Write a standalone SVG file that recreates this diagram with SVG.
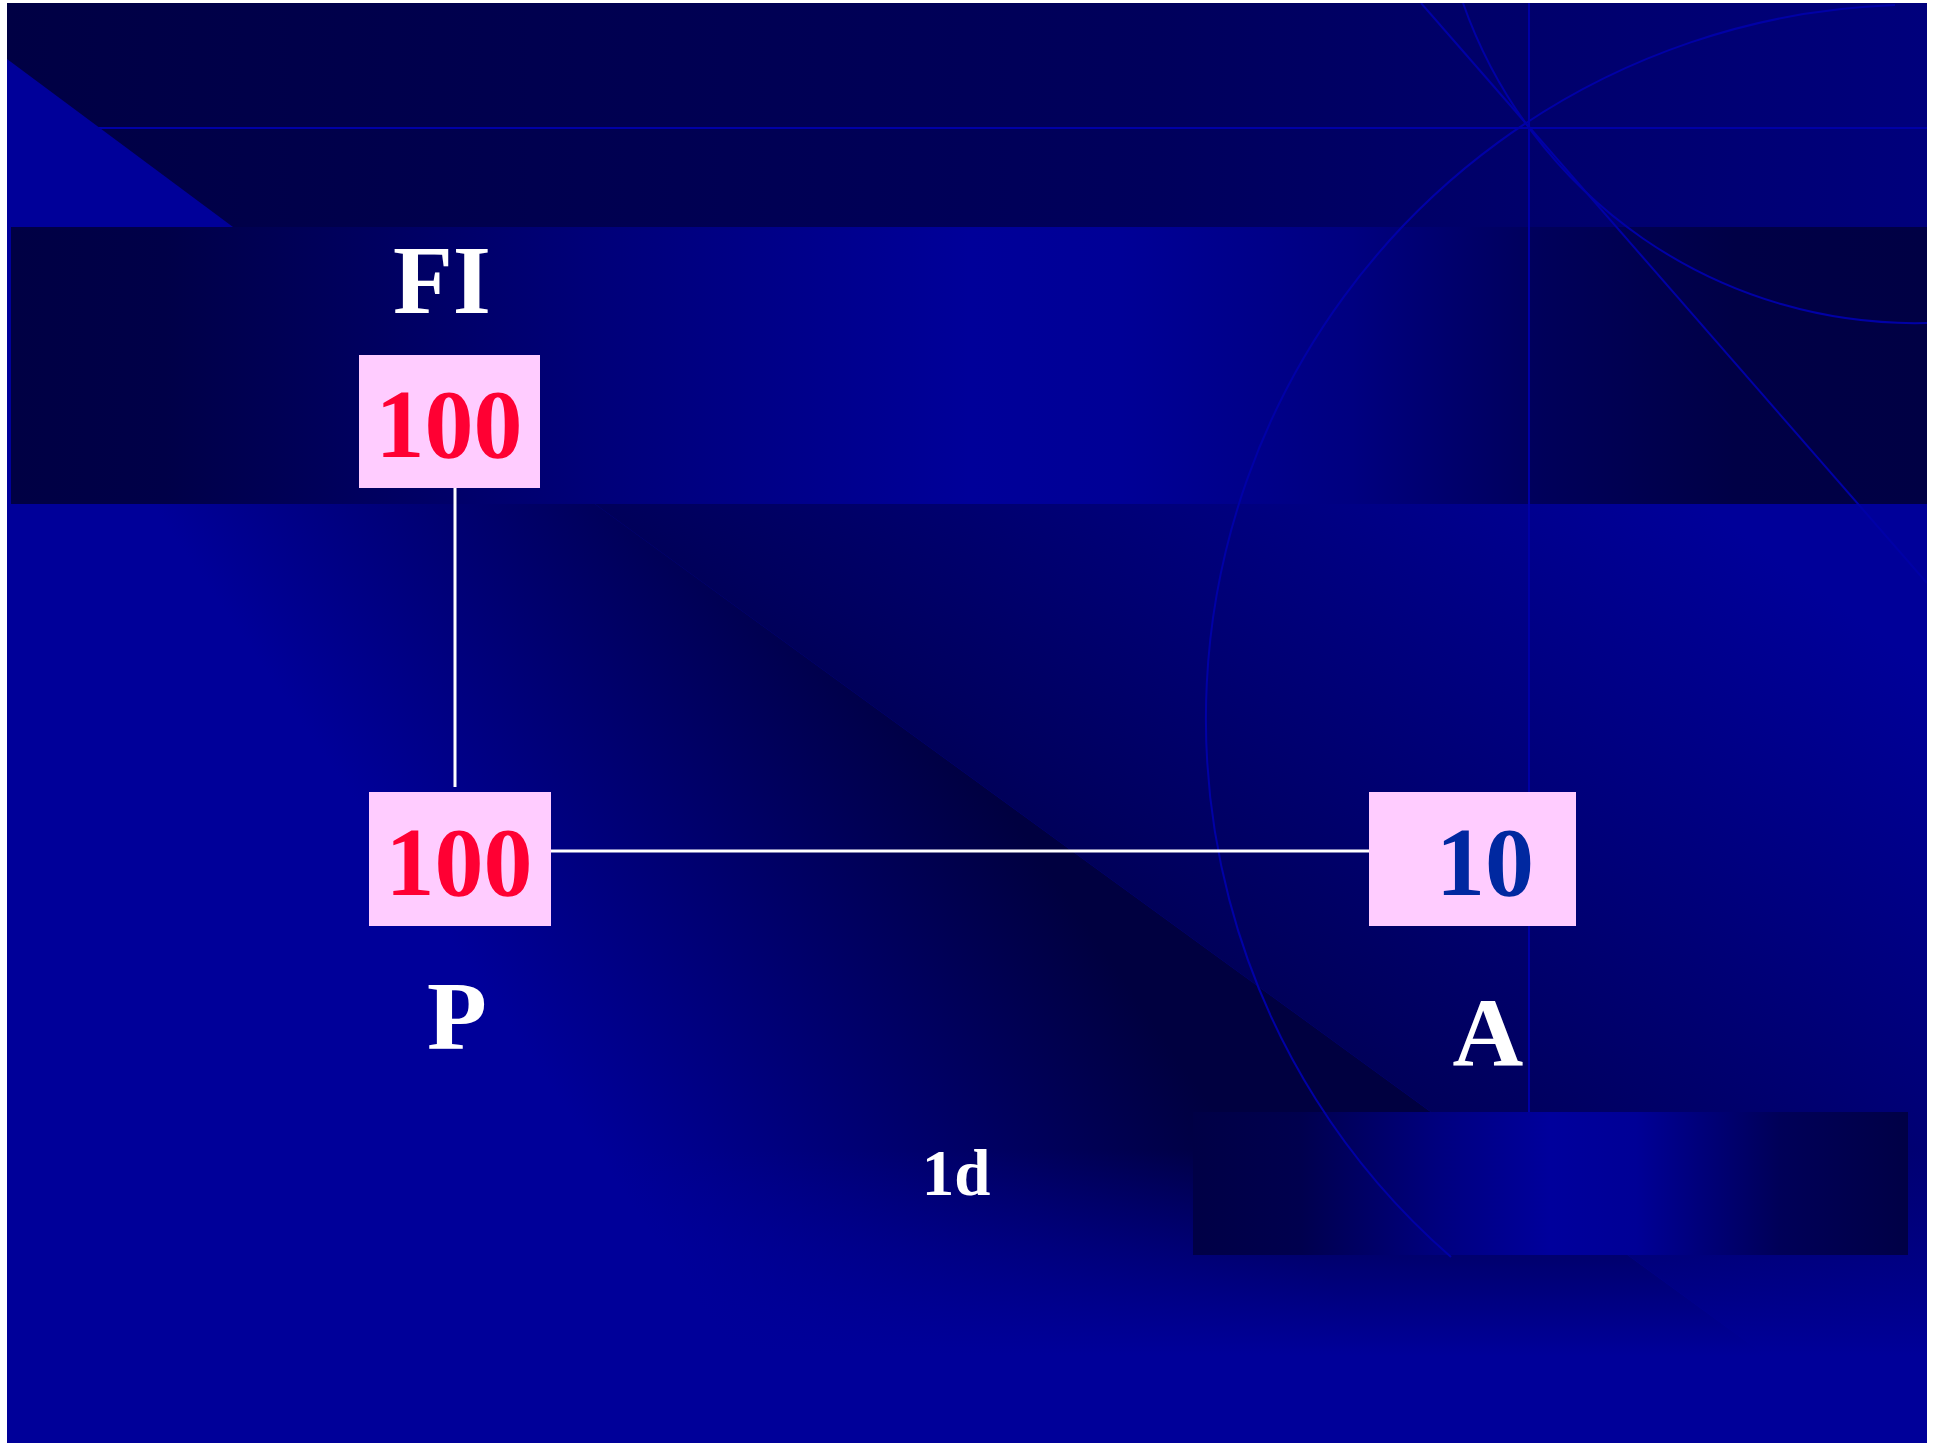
<svg xmlns="http://www.w3.org/2000/svg" width="1933" height="1446" viewBox="0 0 1933 1446">
  <defs>
    <linearGradient id="gTop" x1="0" y1="0" x2="1" y2="0">
      <stop offset="0" stop-color="#000044"/>
      <stop offset="0.6" stop-color="#00005c"/>
      <stop offset="1" stop-color="#00007c"/>
    </linearGradient>
    <linearGradient id="gBand" gradientUnits="userSpaceOnUse" x1="11" y1="0" x2="1927" y2="0">
      <stop offset="0" stop-color="#000044"/>
      <stop offset="0.08" stop-color="#000048"/>
      <stop offset="0.3" stop-color="#000078"/>
      <stop offset="0.5" stop-color="#000099"/>
      <stop offset="0.58" stop-color="#000096"/>
      <stop offset="0.7" stop-color="#000080"/>
      <stop offset="0.8" stop-color="#00005a"/>
      <stop offset="0.9" stop-color="#000046"/>
      <stop offset="1" stop-color="#000044"/>
    </linearGradient>
    <linearGradient id="gLowL" gradientUnits="userSpaceOnUse" x1="1000" y1="798" x2="560" y2="1100">
      <stop offset="0" stop-color="#000040"/>
      <stop offset="1" stop-color="#000099"/>
    </linearGradient>
    <linearGradient id="gLowR" gradientUnits="userSpaceOnUse" x1="1000" y1="798" x2="1382" y2="272">
      <stop offset="0" stop-color="#00005a"/>
      <stop offset="1" stop-color="#000099"/>
    </linearGradient>
    <linearGradient id="gFade" x1="0" y1="0" x2="0" y2="1">
      <stop offset="0" stop-color="#000099" stop-opacity="0"/>
      <stop offset="0.7" stop-color="#000099" stop-opacity="1"/>
      <stop offset="1" stop-color="#000099" stop-opacity="1"/>
    </linearGradient>
    <linearGradient id="gRect" x1="0" y1="0" x2="1" y2="0">
      <stop offset="0" stop-color="#000046"/>
      <stop offset="0.15" stop-color="#00004e"/>
      <stop offset="0.35" stop-color="#000080"/>
      <stop offset="0.5" stop-color="#00009c"/>
      <stop offset="0.62" stop-color="#000096"/>
      <stop offset="0.82" stop-color="#000058"/>
      <stop offset="1" stop-color="#000046"/>
    </linearGradient>
    <clipPath id="slide">
      <rect x="7" y="3" width="1920" height="1440"/>
    </clipPath>
  </defs>
  <style>
    .deco { fill: none; stroke: #0000a6; stroke-width: 2; }
    .box { fill: #ffccff; }
    .lbl { font-family: "Liberation Serif", "Times New Roman", serif; font-weight: bold; text-anchor: middle; }
    .big { font-size: 98px; }
    .white { fill: #ffffff; }
    .red { fill: #ff0033; }
    .blue { fill: #0028a0; }
    .conn { stroke: #ffffff; stroke-width: 3; fill: none; }
  </style>

  <rect x="0" y="0" width="1933" height="1446" fill="#ffffff"/>

  <g id="background" clip-path="url(#slide)">
    <rect x="7" y="3" width="1920" height="1440" fill="#000099"/>
    <rect x="7" y="3" width="1920" height="224" fill="url(#gTop)"/>
    <line class="deco" x1="5" y1="128" x2="1930" y2="128"/>
    <polygon points="7,59 233,227 7,227" fill="#000099"/>
    <rect x="11" y="227" width="1916" height="277" fill="url(#gBand)"/>
    <polygon points="7,504 595,504 1886,1443 7,1443" fill="url(#gLowL)"/>
    <polygon points="595,504 1927,504 1927,1443 1886,1443" fill="url(#gLowR)"/>
    <rect x="7" y="1150" width="1920" height="293" fill="url(#gFade)"/>
    <line class="deco" x1="1529" y1="3" x2="1529" y2="1112" stroke="#00009c" stroke-width="1.5"/>
    <rect x="1193" y="1112" width="715" height="143" fill="url(#gRect)"/>
    <line class="deco" x1="1421" y1="3" x2="1927" y2="583"/>
    <path class="deco" d="M 1463 3 A 479 479 0 0 0 1927 323"/>
    <path class="deco" d="M 1895 5 A 714 714 0 0 0 1451 1257"/>
  </g>

  <g id="connectors">
    <line class="conn" x1="455" y1="488" x2="455" y2="787" stroke-width="2.5"/>
    <line class="conn" x1="551" y1="851" x2="1369" y2="851"/>
  </g>

  <g id="label-FI">
    <text class="lbl big white" x="442" y="313">FI</text>
  </g>
  <g id="node-FI">
    <rect class="box" x="359" y="355" width="181" height="133"/>
    <text class="lbl big red" x="449" y="457">100</text>
  </g>
  <g id="node-P">
    <rect class="box" x="369" y="792" width="182" height="134"/>
    <text class="lbl big red" x="459" y="895">100</text>
  </g>
  <g id="label-P">
    <text class="lbl big white" x="457" y="1049">P</text>
  </g>
  <g id="node-A">
    <rect class="box" x="1369" y="792" width="207" height="134"/>
    <text class="lbl big blue" x="1485" y="895">10</text>
  </g>
  <g id="label-A">
    <text class="lbl big white" x="1488" y="1065">A</text>
  </g>
  <g id="label-1d">
    <text class="lbl white" font-size="65" x="956" y="1195">1d</text>
  </g>
</svg>
